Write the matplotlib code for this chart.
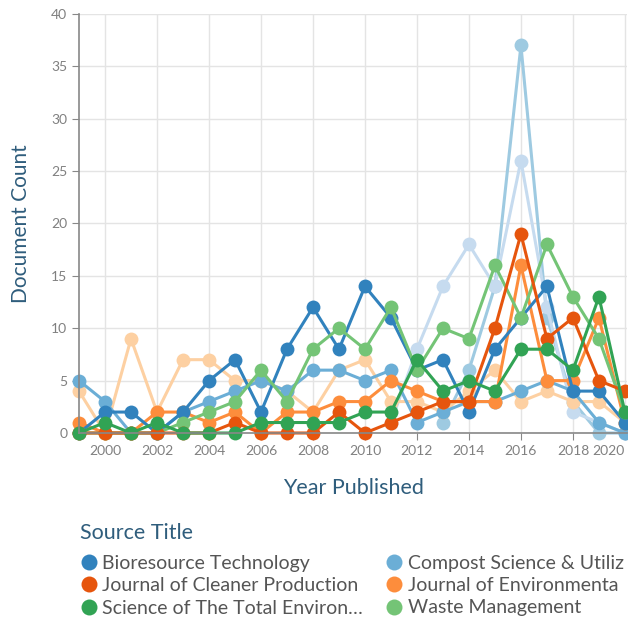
import matplotlib
matplotlib.use("Agg")
import matplotlib.pyplot as plt
from matplotlib.lines import Line2D

nan = float("nan")
years = list(range(1999, 2021))

# legend series
bioresource = [0, 2, 2, 0, 2, 5, 7, 2, 8, 12, 8, 14, 11, 6, 7, 2, 8, 11, 14, 4, 4, 1]
compost = [5, 3, 0, 0, 2, 3, 4, 5, 4, 6, 6, 5, 6, 1, 2, 3, 3, 4, 5, 4, 1, 0]
cleaner = [0, 0, 0, 0, 0, 0, 1, 0, 0, 0, 2, 0, 1, 2, 3, 3, 10, 19, 9, 11, 5, 4]
environmenta = [1, 0, 0, 2, 2, 1, 2, 0, 2, 2, 3, 3, 5, 4, 3, 3, 3, 16, 5, 5, 11, 1]
total_env = [0, 1, 0, 1, 0, 0, 0, 1, 1, 1, 1, 2, 2, 7, 4, 5, 4, 8, 8, 6, 13, 2]
waste = [0, 0, 0, 0, 1, 2, 3, 6, 3, 8, 10, 8, 12, 6, 10, 9, 16, 11, 18, 13, 9, 2]

# series drawn without a visible legend entry (no records before they start)
other_blue = [nan] * 14 + [1, 6, 14, 37, 11, 3, 0, 0]
pale_blue = [nan] * 12 + [1, 8, 14, 18, 14, 26, 12, 2, 1, 0]
pale_orange = [4, 0, 9, 2, 7, 7, 5, 5, 4, 2, 6, 7, 3, 3, 2, 4, 6, 3, 4, 3, 3, 1]

legend_labels = [
    "Bioresource Technology",
    "Compost Science & Utiliz",
    "Journal of Cleaner Production",
    "Journal of Environmenta",
    "Science of The Total Environ\u2026",
    "Waste Management",
]
legend_colors = ["#3182bd", "#6baed6", "#e6550d", "#fd8d3c", "#31a354", "#74c476"]

series = [
    (other_blue, "#9ecae1"),
    (pale_blue, "#c6dbef"),
    (pale_orange, "#fdd0a2"),
    (compost, "#6baed6"),
    (environmenta, "#fd8d3c"),
    (bioresource, "#3182bd"),
    (waste, "#74c476"),
    (cleaner, "#e6550d"),
    (total_env, "#31a354"),
]

title_color = "#2f5d7c"
tick_color = "#808080"
plt.rcParams["font.family"] = ["Lato", "DejaVu Sans"]

fig = plt.figure(figsize=(6.28, 6.2), dpi=100)
ax = fig.add_axes([79 / 628, 1 - 433 / 620, (627 - 79) / 628, (433 - 14) / 620])

for values, color in series:
    ax.plot(years, values, color=color, lw=2.2, marker="o", ms=10,
            markeredgewidth=0, clip_on=False)

ax.set_xlim(1999, 2020.08)
ax.set_ylim(0, 40)
ax.set_xticks(range(2000, 2021, 2))
ax.set_yticks(range(0, 41, 5))
ax.grid(True, color="#e4e4e4", lw=1)
ax.set_axisbelow(True)
for side in ("top", "right"):
    ax.spines[side].set_visible(False)
for side in ("left", "bottom"):
    ax.spines[side].set_color("#888888")
    ax.spines[side].set_linewidth(1.2)
ax.tick_params(colors="#888888", labelcolor=tick_color, labelsize=10, length=5)
ax.get_xticklabels()[-1].set_horizontalalignment("right")

ax.set_xlabel("Year Published", color=title_color, fontsize=15.5, labelpad=15)
ax.set_ylabel("Document Count", color=title_color, fontsize=15, labelpad=14)

fig.text(80 / 628, 1 - 533 / 620, "Source Title", color=title_color,
         fontsize=15.5, ha="left", va="center")

# matplotlib fills legend columns first, the reference fills rows first
order = [0, 2, 4, 1, 3, 5]
handles = [Line2D([], [], ls="", marker="o", ms=11.5, color=legend_colors[i],
                  markeredgewidth=0) for i in order]
labels = [legend_labels[i] for i in order]
leg = fig.legend(handles, labels, loc="upper left",
                 bbox_to_anchor=(80 / 628, 1 - 555 / 620), ncol=2,
                 frameon=False, fontsize=14, handletextpad=0.25,
                 columnspacing=1.15, labelspacing=0.27, handlelength=0.9,
                 borderaxespad=0, borderpad=0)
for t in leg.get_texts():
    t.set_color("#555555")

fig.savefig("out.png", dpi=100)
